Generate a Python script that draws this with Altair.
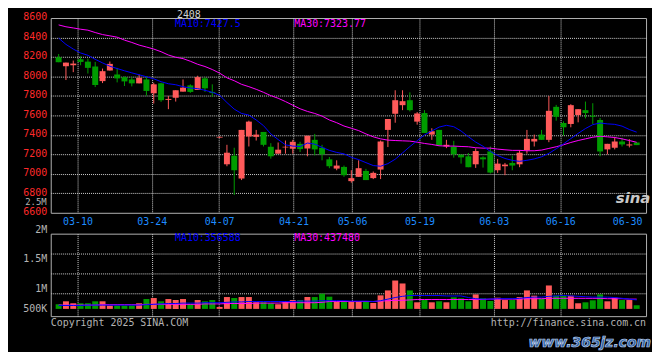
import altair as alt
import pandas as pd

# ---------------- data ----------------
dates = ["03-05", "03-06", "03-07",
         "03-10", "03-11", "03-12", "03-13", "03-14", "03-17", "03-18", "03-19", "03-20", "03-21",
         "03-24", "03-25", "03-26", "03-27", "03-28", "03-31", "04-01", "04-02", "04-03",
         "04-07", "04-08", "04-09", "04-10", "04-11", "04-14", "04-15", "04-16", "04-17", "04-18",
         "04-21", "04-22", "04-23", "04-24", "04-25", "04-28", "04-29", "04-30",
         "05-06", "05-07", "05-08", "05-09", "05-12", "05-13", "05-14", "05-15", "05-16",
         "05-19", "05-20", "05-21", "05-22", "05-23", "05-26", "05-27", "05-28", "05-29", "05-30",
         "06-03", "06-04", "06-05", "06-06", "06-09", "06-10", "06-11", "06-12", "06-13",
         "06-16", "06-17", "06-18", "06-19", "06-20", "06-23", "06-24", "06-25", "06-26", "06-27",
         "06-30", "07-01"]

opens = [8197, 8105, 8115, 8176, 8152, 8102, 7952, 8061, 8020, 7993,
         7969, 7929, 7969, 7827, 7929, 7759, 7780, 7844, 7908, 7861,
         7980, 7841, 7372, 7098, 7186, 6952, 7383, 7380, 7430, 7278,
         7207, 7271, 7258, 7308, 7261, 7349, 7268, 7149, 7054, 7071,
         6925, 6969, 7030, 6956, 7044, 7451, 7617, 7705, 7756, 7536,
         7624, 7403, 7451, 7281, 7278, 7197, 7180, 7098, 7169, 7230,
         7037, 7078, 7112, 7098, 7241, 7332, 7403, 7349, 7688, 7522,
         7512, 7603, 7654, 7597, 7553, 7251, 7268, 7332, 7291, 7322]

closes = [8146, 8142, 8132, 8149, 8088, 7912, 8054, 8129, 7980, 7949,
          7929, 7986, 7851, 7919, 7756, 7769, 7858, 7885, 7841, 7993,
          7878, 7830, 7380, 7217, 7037, 7451, 7536, 7403, 7298, 7180,
          7248, 7278, 7329, 7254, 7390, 7251, 7200, 7078, 7085, 6986,
          6956, 7058, 6936, 7010, 7332, 7563, 7756, 7746, 7654, 7620,
          7420, 7437, 7291, 7298, 7200, 7169, 7068, 7234, 7149, 7013,
          7105, 7095, 7085, 7217, 7359, 7359, 7349, 7647, 7586, 7478,
          7705, 7664, 7624, 7586, 7230, 7308, 7332, 7302, 7302, 7295]

highs = [8230, 8142, 8163, 8207, 8183, 8149, 8081, 8153, 8088, 8000,
         7993, 8020, 8003, 7936, 7936, 7800, 7858, 7969, 7919, 8007,
         7993, 7919, 7384, 7298, 7268, 7451, 7546, 7451, 7430, 7315,
         7322, 7342, 7349, 7329, 7390, 7410, 7298, 7173, 7139, 7085,
         7037, 7139, 7051, 7024, 7342, 7563, 7858, 7858, 7837, 7634,
         7654, 7468, 7451, 7349, 7339, 7197, 7214, 7261, 7180, 7281,
         7153, 7112, 7186, 7244, 7451, 7403, 7451, 7800, 7708, 7539,
         7715, 7664, 7742, 7725, 7573, 7308, 7376, 7369, 7356, 7322]

lows = [8146, 7963, 8044, 8115, 8030, 7891, 7932, 8061, 7939, 7902,
        7898, 7929, 7803, 7722, 7739, 7664, 7742, 7844, 7831, 7861,
        7841, 7790, 7368, 7078, 6783, 6936, 7281, 7342, 7281, 7156,
        7207, 7207, 7207, 7224, 7180, 7190, 7139, 7058, 7037, 6969,
        6909, 6969, 6936, 6946, 6946, 7275, 7525, 7654, 7641, 7505,
        7420, 7349, 7288, 7264, 7166, 7105, 7068, 7061, 7064, 7003,
        7010, 6986, 7037, 7068, 7207, 7281, 7349, 7325, 7546, 7393,
        7478, 7529, 7569, 7512, 7180, 7200, 7251, 7281, 7271, 7295]

ma10 = [8393, 8329, 8281, 8241, 8217, 8176, 8139, 8105, 8081, 8058,
        8037, 8017, 7997, 7976, 7946, 7925, 7915, 7895, 7881, 7875,
        7858, 7837, 7807, 7732, 7664, 7620, 7603, 7553, 7495, 7410,
        7352, 7298, 7285, 7281, 7316, 7305, 7272, 7241, 7220, 7205,
        7170, 7146, 7115, 7085, 7078, 7105, 7150, 7215, 7280, 7340,
        7400, 7440, 7480, 7498, 7484, 7440, 7381, 7326, 7283, 7230,
        7188, 7158, 7138, 7128, 7139, 7153, 7175, 7210, 7257, 7308,
        7362, 7415, 7465, 7505, 7522, 7513, 7508, 7490, 7455, 7428]

ma30 = [8529, 8510, 8498, 8485, 8475, 8451, 8430, 8417, 8403, 8373,
        8349, 8322, 8302, 8281, 8254, 8220, 8197, 8183, 8156, 8125,
        8102, 8071, 8034, 7986, 7956, 7919, 7895, 7868, 7837, 7803,
        7776, 7742, 7705, 7668, 7641, 7620, 7593, 7553, 7525, 7491,
        7468, 7444, 7410, 7380, 7359, 7346, 7342, 7339, 7336, 7325,
        7312, 7302, 7288, 7285, 7285, 7281, 7278, 7268, 7264, 7264,
        7254, 7247, 7241, 7241, 7237, 7237, 7244, 7261, 7278, 7298,
        7322, 7342, 7359, 7376, 7386, 7380, 7373, 7359, 7342, 7324]

# volume, millions
volumes = [0.231, 0.305, 0.256, 0.256, 0.256, 0.305, 0.305, 0.198, 0.198, 0.198,
           0.198, 0.256, 0.362, 0.387, 0.305, 0.362, 0.337, 0.362, 0.231, 0.337,
           0.305, 0.337, 0.164, 0.412, 0.387, 0.412, 0.412, 0.280, 0.280, 0.256,
           0.231, 0.305, 0.337, 0.337, 0.412, 0.412, 0.496, 0.421, 0.297, 0.297,
           0.297, 0.297, 0.297, 0.264, 0.454, 0.578, 0.826, 0.752, 0.578, 0.280,
           0.337, 0.280, 0.305, 0.280, 0.404, 0.380, 0.305, 0.479, 0.380, 0.313,
           0.396, 0.337, 0.337, 0.412, 0.578, 0.446, 0.371, 0.702, 0.446, 0.446,
           0.446, 0.256, 0.280, 0.330, 0.479, 0.305, 0.396, 0.337, 0.337, 0.206]

vol_ma10 = [0.20, 0.20, 0.20, 0.20, 0.21, 0.21, 0.21, 0.21, 0.21, 0.21,
            0.21, 0.21, 0.22, 0.23, 0.24, 0.25, 0.25, 0.26, 0.26, 0.26,
            0.27, 0.27, 0.27, 0.28, 0.29, 0.29, 0.30, 0.30, 0.30, 0.30,
            0.30, 0.30, 0.30, 0.31, 0.31, 0.31, 0.32, 0.32, 0.32, 0.32,
            0.31, 0.31, 0.31, 0.30, 0.32, 0.36, 0.40, 0.43, 0.45, 0.45,
            0.45, 0.45, 0.45, 0.44, 0.44, 0.44, 0.40, 0.37, 0.36, 0.36,
            0.37, 0.37, 0.37, 0.38, 0.40, 0.41, 0.41, 0.43, 0.44, 0.45,
            0.44, 0.43, 0.42, 0.41, 0.41, 0.41, 0.40, 0.38, 0.36, 0.34]

vol_ma30 = [0.21, 0.21, 0.21, 0.21, 0.21, 0.21, 0.22, 0.22, 0.22, 0.22,
            0.22, 0.22, 0.23, 0.23, 0.23, 0.23, 0.23, 0.23, 0.23, 0.23,
            0.24, 0.24, 0.24, 0.25, 0.25, 0.25, 0.25, 0.26, 0.26, 0.26,
            0.26, 0.27, 0.27, 0.27, 0.27, 0.27, 0.28, 0.30, 0.30, 0.30,
            0.30, 0.30, 0.30, 0.30, 0.31, 0.32, 0.33, 0.33, 0.34, 0.35,
            0.35, 0.35, 0.35, 0.35, 0.35, 0.35, 0.35, 0.35, 0.35, 0.36,
            0.36, 0.36, 0.36, 0.36, 0.37, 0.37, 0.37, 0.38, 0.38, 0.38,
            0.38, 0.38, 0.38, 0.38, 0.38, 0.37, 0.37, 0.37, 0.36, 0.36]

tick_labels = ["03-10", "03-24", "04-07", "04-21", "05-06", "05-19", "06-03", "06-16", "06-30"]
tick_pos = [3.58, 13.73, 22.94, 33.09, 41.11, 50.32, 60.47, 69.56, 78.69]
price_ticks = [6600, 6800, 7000, 7200, 7400, 7600, 7800, 8000, 8200, 8400, 8600]
vol_ticks = [0.5, 1.0, 1.5, 2.0]
vol_base = 0.115

title_text = "2408"
price_ma_texts = ["MA10:7427.5", "MA30:7323.77"]
vol_ma_texts = ["MA10:356588", "MA30:437480"]

# ---------------- styles ----------------
MONO = "DejaVu Sans Mono"
RED = "#ff5a5a"
GREEN = "#009c00"
BLUE = "#0000ff"
MAG = "#ff00ff"
GRID = "#d0d0d0"
BORDER = "#b0b0b0"
AX_RED = "#ff2a2a"
AX_BLUE = "#1e8cff"
GREY = "#b4b4b4"

W, H1, H2 = 599, 196, 83

df = pd.DataFrame({
    "i": list(range(1, len(dates) + 1)),
    "date": dates,
    "open": opens, "high": highs, "low": lows, "close": closes,
    "ma10": ma10, "ma30": ma30,
    "vol": volumes, "vma10": vol_ma10, "vma30": vol_ma30,
})
df["dir"] = ["up" if c >= o else "down" for o, c in zip(opens, closes)]

one = pd.DataFrame({"k": [0]})


def txt(s, x, y, color, size=10, align="left", baseline="middle", font=MONO, **kw):
    return alt.Chart(one).mark_text(
        text=s, align=align, baseline=baseline, color=color, fontSize=size, font=font, **kw
    ).encode(x=alt.value(x), y=alt.value(y))


xscale = alt.Scale(domain=[0.6, 80.6], nice=False, zero=False)
pscale = alt.Scale(domain=[6600, 8600], nice=False, zero=False)
vscale = alt.Scale(domain=[-0.067, 2.0], nice=False, zero=False)
color = alt.Color("dir:N", scale=alt.Scale(domain=["up", "down"], range=[RED, GREEN]), legend=None)

label_expr = ("[" + ",".join("'%s'" % t for t in tick_labels) + "][indexof(["
              + ",".join(str(p) for p in tick_pos) + "], datum.value)]")

x_axis_price = alt.Axis(
    values=tick_pos, tickCount=len(tick_pos), labelExpr=label_expr, title=None,
    domain=False, ticks=False,
    labelColor=AX_BLUE, labelFont=MONO, labelFontSize=10, labelPadding=4,
    labelFlush=False, labelOverlap=False, grid=True, gridColor=GRID, gridDash=[1, 1],
    gridOpacity={"condition": {"test": "datum.value > 75", "value": 0}, "value": 1},
)
x_axis_vol = alt.Axis(
    values=tick_pos[:-1], tickCount=len(tick_pos), labels=False, title=None,
    domain=False, ticks=False, grid=True, gridColor=GRID, gridDash=[1, 1],
)
y_axis_price = alt.Axis(
    values=price_ticks, tickCount=len(price_ticks), format="d", title=None,
    domain=False, ticks=False,
    labelColor=AX_RED, labelFont=MONO, labelFontSize=10, labelPadding=4,
    labelOverlap=False, labelOffset=-1,
    grid=True, gridColor=GRID, gridDash=[1, 1],
    gridOpacity={"condition": {"test": "datum.value == 6600 || datum.value == 8600", "value": 0}, "value": 1},
)
y_axis_vol = alt.Axis(
    values=vol_ticks, tickCount=len(vol_ticks), title=None, domain=False, ticks=False,
    labelExpr="datum.value == 2 ? '2M' : datum.value == 1.5 ? '1.5M' : datum.value == 1 ? '1M' : '500K'",
    labelColor=GREY, labelFont=MONO, labelFontSize=10, labelPadding=4, labelOverlap=False,
    labelOffset={"condition": [{"test": "datum.value == 2", "value": -4},
                               {"test": "datum.value == 1.5", "value": 5}], "value": 15},
    grid=True, gridColor=GRID, gridDash=[1, 1],
    gridOpacity={"condition": {"test": "datum.value == 2", "value": 0}, "value": 1},
)

base = alt.Chart(df)
X = alt.X("i:Q", scale=xscale, axis=x_axis_price)


def PY(field):
    return alt.Y(field, type="quantitative", scale=pscale, axis=y_axis_price)


wick = base.mark_rule(strokeWidth=1).encode(x=X, y=PY("low"), y2="high:Q", color=color)
body = base.mark_bar(size=6).encode(x=X, y=PY("open"), y2="close:Q", color=color)
l30 = base.mark_line(color=MAG, strokeWidth=1).encode(x=X, y=PY("ma30"))
l10 = base.mark_line(color=BLUE, strokeWidth=1).encode(x=X, y=PY("ma10"))

price = alt.layer(
    wick, body, l30, l10,
    txt(title_text, 139, -8.5, "#d0d0d0", size=10, align="center", baseline="top"),
    txt(price_ma_texts[0], 125, 6.5, BLUE),
    txt(price_ma_texts[1], 245, 6.5, MAG),
    txt("2.5M", -4, 185, GREY, size=9, align="right"),
    txt("sina", 586, 181, "#c8c8c8", size=15, align="center", font="DejaVu Sans",
        fontStyle="italic", fontWeight="bold"),
).properties(width=W, height=H1)

VX = alt.X("i:Q", scale=xscale, axis=x_axis_vol)


def VY(field):
    return alt.Y(field, type="quantitative", scale=vscale, axis=y_axis_vol)


vbar = base.mark_bar(size=6).encode(x=VX, y=VY("vol"), y2=alt.datum(vol_base), color=color)
v10 = base.mark_line(color=BLUE, strokeWidth=1).encode(x=VX, y=VY("vma10"))
v30 = base.mark_line(color=MAG, strokeWidth=1).encode(x=VX, y=VY("vma30"))

vol = alt.layer(
    vbar, v30, v10,
    txt(vol_ma_texts[0], 125, 4, BLUE),
    txt(vol_ma_texts[1], 245, 4, MAG),
    txt("Copyright 2025 SINA.COM", 0, 90, GREY),
    txt("http://finance.sina.com.cn", W, 90, GREY, align="right"),
    txt("www.365jz.com", W + 5, 110, "#2f5f9f", size=14, align="right", font="DejaVu Sans",
        fontWeight="bold", fontStyle="italic", stroke="#bcd0ee", strokeWidth=0.7),
).properties(width=W, height=H2)

chart = alt.vconcat(price, vol, spacing=21, bounds="flush").properties(
    background="black",
    padding={"left": 14, "top": 0, "right": 0, "bottom": 0},
).configure_view(stroke=BORDER, strokeWidth=1)

chart.save("out.html", embed_options={"renderer": "svg", "actions": False})
